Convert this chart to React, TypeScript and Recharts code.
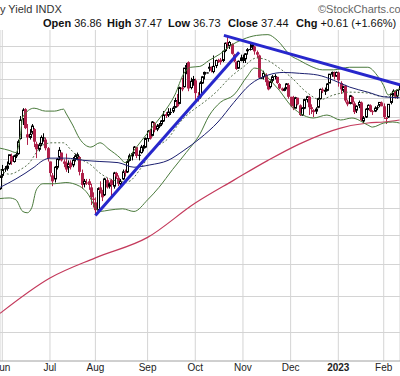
import { ComposedChart, Bar, Line, XAxis, YAxis, CartesianGrid } from "recharts";

// $TNX daily candles, yield x10. Day 0 = Jun 1 2022, one step per trading day.
const FIRST_DAY = -1;

const OPEN = [
  27.5,
  28.6, 29.2, 29.2, 29.6, 30.3, 29.8, 30.3, 30.5, 31.9, 33.8, 34.8, 32.3, 32.0, 32.5, 32.8, 31.4, 30.9, 31.4, 32.0, 31.8, 31.0,
  29.8, 28.6, 28.3, 29.3, 30.2, 30.6, 29.8, 29.7, 29.3, 29.7, 29.5, 30.0, 30.1, 30.2, 28.8, 27.9, 28.0, 28.1, 27.6, 26.7,
  26.4, 25.8, 27.6, 27.3, 27.0, 28.2, 27.7, 28.2, 27.7, 28.8, 28.4, 27.9, 28.3, 28.9, 28.9, 29.9, 30.3, 30.6, 31.1, 30.4, 30.6, 31.0, 31.1,
  31.9, 32.7, 32.2, 33.4, 32.8, 33.1, 33.3, 33.6, 34.3, 34.2, 34.5, 34.6, 35.0, 35.6, 35.4, 37.1, 37.2, 39.4, 40.0, 37.1, 37.9,
  37.9, 36.2, 36.1, 37.6, 38.6, 38.8, 39.3, 39.4, 38.9, 39.6, 40.2, 40.3, 40.2, 41.4, 42.4, 42.0, 42.2, 40.9, 40.0, 39.3, 40.2,
  40.2, 40.4, 41.4, 41.6, 41.8, 41.9, 41.2, 40.8, 38.2, 38.3, 38.5, 37.8, 37.2, 37.9, 38.4, 38.3, 37.5, 37.0, 36.8, 37.0, 37.4,
  36.1, 35.0, 34.9, 36.0, 35.2, 34.2, 34.9, 35.8, 36.1, 35.0, 34.7, 34.6, 35.0, 35.9, 36.9, 36.7, 36.8, 37.6, 38.6, 38.8, 38.4,
  38.8, 37.6, 36.8, 37.3, 35.6, 35.4, 36.1, 35.4, 34.7, 35.2, 35.5, 33.6, 34.0, 34.8, 35.2, 34.6, 34.6, 35.0, 35.2, 35.5,
  35.1, 33.9, 34.0, 35.5, 36.4, 36.6, 36.2, 36.86,
];
const HIGH = [
  28.6,
  29.5, 29.4, 29.8, 30.4, 30.5, 30.4, 30.6, 31.8, 34.1, 34.9, 34.9, 33.3, 32.8, 33.3, 32.9, 31.6, 31.5, 32.2, 32.4, 32.0, 31.1,
  29.8, 28.8, 29.4, 30.1, 31.1, 30.6, 30.0, 30.5, 29.9, 29.9, 30.2, 30.5, 30.6, 30.3, 29.1, 28.3, 28.3, 28.3, 27.9, 27.2,
  26.8, 27.6, 28.1, 27.4, 28.4, 28.4, 28.0, 28.3, 28.9, 28.9, 28.6, 28.3, 29.1, 29.1, 30.0, 30.5, 30.6, 31.2, 31.1, 30.8, 31.3, 31.3, 32.0,
  32.7, 32.8, 33.6, 33.5, 33.3, 33.4, 33.7, 34.6, 34.5, 34.9, 34.9, 35.1, 36.0, 36.4, 37.2, 38.2, 39.3, 39.9, 40.1, 38.2, 38.4,
  38.1, 36.6, 37.8, 38.4, 38.9, 38.8, 39.9, 39.5, 40.8, 40.3, 40.4, 40.5, 41.4, 42.4, 43.3, 42.6, 42.3, 41.0, 40.1, 40.2, 40.9,
  40.9, 41.1, 41.7, 42.3, 42.2, 42.0, 41.4, 40.9, 38.2, 39.0, 38.7, 37.9, 38.0, 38.5, 38.6, 38.3, 37.6, 37.1, 37.1, 37.6, 37.6,
  36.1, 36.2, 36.1, 36.0, 35.3, 35.0, 35.9, 36.2, 36.2, 35.3, 34.8, 35.0, 36.0, 37.0, 37.1, 37.1, 37.6, 38.6, 38.9, 38.9, 38.9,
  38.9, 37.8, 37.3, 37.4, 35.8, 36.3, 36.2, 35.6, 35.2, 35.7, 35.6, 34.1, 34.9, 35.3, 35.3, 34.7, 35.1, 35.2, 35.5, 35.6,
  35.4, 34.0, 35.3, 36.4, 36.9, 36.8, 36.8, 37.47,
];
const LOW = [
  27.4,
  28.4, 28.9, 29.0, 29.5, 29.5, 29.7, 30.1, 30.4, 31.8, 33.2, 32.8, 31.3, 31.8, 32.3, 31.1, 30.1, 30.7, 31.2, 31.6, 30.8, 29.8,
  28.5, 27.7, 28.0, 29.1, 29.9, 29.8, 29.3, 28.9, 28.8, 29.1, 29.3, 29.8, 29.9, 28.6, 27.5, 27.6, 27.8, 27.4, 26.2, 26.0,
  25.5, 25.6, 27.1, 26.5, 26.9, 27.5, 27.5, 26.9, 27.5, 28.3, 27.7, 27.7, 28.2, 28.5, 28.8, 29.8, 29.9, 30.5, 30.1, 29.9, 30.5, 30.7, 31.0,
  31.6, 31.8, 32.1, 32.5, 32.6, 32.9, 33.1, 33.5, 33.9, 34.0, 34.2, 34.4, 34.9, 35.0, 35.3, 36.7, 37.1, 38.6, 36.7, 36.9, 37.3,
  35.7, 35.6, 35.9, 37.5, 38.0, 38.8, 38.9, 38.8, 38.7, 39.3, 39.9, 39.7, 40.0, 41.2, 41.6, 41.6, 40.9, 40.0, 39.1, 39.2, 40.1,
  39.9, 39.9, 40.9, 41.4, 41.5, 40.9, 40.5, 38.1, 38.2, 38.0, 37.3, 36.8, 37.0, 37.6, 38.0, 37.5, 36.9, 36.7, 36.7, 36.9, 35.9,
  35.0, 34.7, 34.9, 35.2, 34.1, 34.1, 34.8, 35.5, 34.2, 34.3, 34.0, 34.3, 34.9, 35.8, 36.5, 36.3, 36.7, 37.6, 38.3, 38.0, 38.3,
  37.2, 36.4, 36.6, 35.5, 35.1, 35.3, 35.3, 34.3, 34.4, 34.9, 33.6, 33.4, 33.9, 34.7, 34.5, 34.2, 34.5, 34.7, 35.0, 35.1,
  33.8, 33.3, 33.9, 35.3, 36.2, 35.9, 35.9, 36.73,
];
const CLOSE = [
  28.5,
  29.1, 29.1, 29.4, 30.4, 29.8, 30.3, 30.4, 31.6, 33.7, 34.7, 32.9, 32.0, 32.3, 33.1, 31.6, 30.9, 31.3, 32.0, 32.0, 31.0, 30.1,
  28.8, 28.1, 29.3, 30.0, 30.8, 29.9, 29.6, 29.1, 29.6, 29.3, 29.9, 30.3, 30.4, 28.9, 27.8, 28.1, 28.0, 27.8, 26.8, 26.6,
  25.8, 27.5, 27.3, 26.8, 28.3, 27.6, 27.9, 27.8, 28.8, 28.5, 27.9, 28.1, 28.9, 28.8, 29.8, 30.3, 30.5, 31.1, 30.3, 30.4, 31.1, 31.1, 31.9,
  32.6, 31.9, 33.5, 32.7, 33.1, 33.2, 33.6, 34.2, 34.1, 34.5, 34.5, 34.9, 35.7, 35.1, 37.1, 36.9, 39.3, 39.6, 37.0, 37.8, 38.0,
  36.5, 36.2, 37.6, 38.3, 38.8, 38.8, 39.4, 39.0, 39.5, 40.2, 40.1, 40.0, 41.3, 42.3, 42.2, 42.4, 41.0, 40.1, 39.2, 40.1, 40.5,
  40.5, 41.0, 41.5, 41.6, 42.1, 41.3, 40.9, 38.2, 38.2, 38.7, 37.7, 36.9, 37.7, 38.3, 38.3, 37.6, 37.0, 36.8, 36.9, 37.5, 36.1,
  35.1, 34.9, 36.0, 35.3, 34.2, 34.9, 35.8, 36.1, 35.0, 34.8, 34.5, 34.8, 35.9, 36.9, 36.7, 36.8, 37.5, 38.6, 38.8, 38.3, 38.8,
  37.9, 36.9, 37.2, 35.7, 35.3, 36.2, 35.5, 34.5, 35.1, 35.5, 33.7, 33.9, 34.8, 35.2, 34.6, 34.5, 34.9, 35.0, 35.5, 35.1,
  34.0, 33.9, 35.3, 36.4, 36.7, 36.1, 36.83, 37.44,
];

// overlays: [day, value]
const UPPER_BAND = [
  [-1, 31.0], [3, 30.8], [6, 30.6], [8, 32.2], [9, 34.0], [14, 34.9], [19, 34.6], [23, 34.6], [27, 34.8], [28, 34.4],
  [31, 33.2], [34, 31.9], [39, 31.1], [43, 31.5], [47, 30.9], [52, 30.1], [54, 29.7], [58, 30.8], [65, 32.7], [71, 34.4],
  [76, 36.3], [80, 38.7], [83, 39.4], [87, 39.5], [91, 40.2], [96, 41.0], [100, 41.9], [106, 42.8], [112, 43.3], [117, 43.4],
  [121, 42.7], [127, 40.8], [131, 40.2], [136, 39.5], [141, 39.1], [146, 39.1], [153, 39.4], [161, 39.4], [165, 38.5],
  [168, 37.3], [170, 36.3], [172, 36.6], [175, 37.0],
];
const LOWER_BAND = [
  [-1, 26.7], [3, 26.75], [6, 26.6], [9, 25.7], [11, 25.6], [13, 26.0], [15, 27.4], [18, 27.9], [23, 27.9], [28, 28.0],
  [34, 27.7], [38, 27.0], [41, 26.0], [43, 25.7], [47, 25.8], [53, 25.9], [58, 25.7], [64, 26.6], [69, 27.6], [75, 29.1],
  [81, 30.6], [87, 32.3], [91, 34.1], [96, 35.5], [102, 36.3], [108, 38.4], [111, 39.3], [114, 39.1], [117, 38.2],
  [122, 36.8], [127, 35.2], [131, 34.4], [137, 33.9], [143, 34.2], [149, 33.7], [154, 33.9], [161, 33.2], [163, 33.0],
  [168, 33.4], [172, 33.5], [175, 33.4],
];
const MID_BAND = [
  [-1, 29.1], [3, 28.7], [8, 29.1], [12, 29.7], [15, 30.6], [18, 31.3], [22, 31.5], [27, 31.5], [30, 30.9], [34, 30.1],
  [39, 29.5], [43, 28.8], [49, 28.2], [55, 28.05], [61, 29.2], [66, 30.8], [73, 31.9], [78, 33.4], [84, 34.7], [87, 35.2],
  [95, 36.8], [100, 38.15], [106, 39.4], [112, 40.5], [117, 40.2], [122, 39.3], [127, 38.3], [134, 36.6], [140, 35.8],
  [146, 36.3], [153, 36.6], [161, 36.5], [168, 36.1], [175, 36.3],
];
const SMA_50 = [
  [-1, 27.6], [6, 28.3], [14, 29.3], [18, 29.9], [21, 30.1], [28, 30.1], [36, 29.9], [43, 29.8], [51, 29.7], [58, 29.3],
  [65, 29.5], [73, 29.9], [80, 30.8], [87, 31.9], [95, 33.5], [102, 35.5], [109, 37.4], [117, 38.5], [124, 38.8],
  [131, 38.7], [139, 38.5], [146, 37.9], [153, 37.15], [161, 36.6], [168, 36.1], [175, 36.0],
];
const SMA_200 = [
  [-1, 19.0], [21, 21.1], [41, 22.4], [64, 23.8], [85, 26.35], [102, 28.2], [117, 29.9], [131, 31.4], [149, 32.9],
  [161, 33.4], [168, 33.5], [175, 33.7],
];
const UP_TREND = [[41, 25.4], [104.3, 41.2]];
const DOWN_TREND = [[97.6, 43.3], [175.1, 37.4]];

const X_DOMAIN = [-1.01, 175.17];
const Y_DOMAIN = [16.5, 44];
const MONTH_TICKS = [0, 21, 41, 64, 85, 106, 127, 148, 168];
const MONTH_LABELS = ["Jun", "Jul", "Aug", "Sep", "Oct", "Nov", "Dec", "2023", "Feb"];
const GRID_LEVELS = [18, 20, 22, 24, 26, 28, 30, 32, 34, 36, 38, 40, 42];

const TITLE = "y Yield INDX";
const QUOTE = [
  ["Open", "36.86", 43],
  ["High", "37.47", 107],
  ["Low", "36.73", 168],
  ["Close", "37.44", 228],
  ["Chg", "+0.61 (+1.66%)", 296],
] as const;

const FONT = "'Liberation Sans', Arial, sans-serif";
const RED = "#b0204a";
const BAND = "#4a7a3c";
const GRID = "#d4d4d4";
const W = 400;
const H = 376;
const PLOT_TOP = 30;
const AXIS_H = 15;

const candles = CLOSE.map((c, k) => ({
  i: FIRST_DAY + k,
  range: [LOW[k], HIGH[k]],
  open: OPEN[k],
  high: HIGH[k],
  low: LOW[k],
  close: c,
  prev: k > 0 ? CLOSE[k - 1] : OPEN[k],
}));

const toPts = (arr: number[][]) => arr.map(([i, v]) => ({ i, v }));

// horizontal log gridlines, same mapping as the log YAxis over the plot area
const plotH = H - PLOT_TOP - AXIS_H;
const gridY = (v: number) =>
  PLOT_TOP + (plotH * (Math.log(Y_DOMAIN[1]) - Math.log(v))) / (Math.log(Y_DOMAIN[1]) - Math.log(Y_DOMAIN[0]));

function Candle(props: any) {
  const { x, y, width, height, payload } = props;
  if (x == null || y == null) return null;
  const { open, close, high, low, prev } = payload;
  const span = Math.log(high) - Math.log(low);
  const py = (v: number) => (span > 0 ? y + (height * (Math.log(high) - Math.log(v))) / span : y);
  const color = close >= prev ? "#000" : RED;
  const cx = Math.round(x + width / 2) + 0.5;
  const top = py(Math.max(open, close));
  const bot = py(Math.min(open, close));
  const hollow = close > open;
  return (
    <g>
      <line x1={cx} x2={cx} y1={y} y2={y + Math.max(height, 1)} stroke={color} strokeWidth={1} />
      {hollow ? (
        <rect x={cx - 1} y={top} width={2} height={Math.max(bot - top, 1)} fill="#fff" stroke={color} strokeWidth={1} />
      ) : (
        <rect x={cx - 1.5} y={top} width={3} height={Math.max(bot - top, 1)} fill={color} />
      )}
    </g>
  );
}

function MonthTick({ x, y, payload }: any) {
  const label = MONTH_LABELS[MONTH_TICKS.indexOf(payload.value)];
  return (
    <text
      x={x}
      y={y + 10}
      textAnchor="middle"
      fontSize={10}
      fontFamily={FONT}
      fontWeight={label === "2023" ? 700 : 400}
      fill="#222"
    >
      {label}
    </text>
  );
}

export default function App() {
  return (
    <div
      style={{
        position: "fixed",
        left: 0,
        top: 0,
        width: W,
        height: H,
        overflow: "hidden",
        background: "#fff",
      }}
    >
      <svg width={W} height={H} style={{ position: "absolute", left: 0, top: 0 }}>
        {GRID_LEVELS.map((v) => {
          const y = Math.round(gridY(v)) + 0.5;
          return <line key={v} x1={0} x2={W} y1={y} y2={y} stroke={GRID} strokeWidth={1} />;
        })}
      </svg>
      <div style={{ position: "absolute", left: 0, top: 0 }}>
        <ComposedChart
          width={W}
          height={H}
          data={candles}
          margin={{ top: PLOT_TOP, right: 0, bottom: 0, left: 0 }}
        >
          <CartesianGrid stroke={GRID} horizontal={false} />
          <XAxis
            dataKey="i"
            type="number"
            domain={X_DOMAIN}
            allowDataOverflow
            ticks={MONTH_TICKS}
            interval={0}
            tick={<MonthTick />}
            tickLine={false}
            tickSize={0}
            tickMargin={0}
            axisLine={{ stroke: "#a0a0a0" }}
            height={AXIS_H}
          />
          <YAxis hide type="number" scale="log" domain={Y_DOMAIN} allowDataOverflow />
          <Line data={toPts(SMA_200)} dataKey="v" type="monotone" stroke="#c43a5c" strokeWidth={1.2} dot={false} isAnimationActive={false} />
          <Line data={toPts(UPPER_BAND)} dataKey="v" type="monotone" stroke={BAND} strokeWidth={1} dot={false} isAnimationActive={false} />
          <Line data={toPts(LOWER_BAND)} dataKey="v" type="monotone" stroke={BAND} strokeWidth={1} dot={false} isAnimationActive={false} />
          <Line data={toPts(MID_BAND)} dataKey="v" type="monotone" stroke="#56704c" strokeWidth={1} strokeDasharray="2 2" dot={false} isAnimationActive={false} />
          <Line data={toPts(SMA_50)} dataKey="v" type="monotone" stroke="#1c2070" strokeWidth={1} dot={false} isAnimationActive={false} />
          <Bar dataKey="range" shape={<Candle />} isAnimationActive={false} />
          <Line data={toPts(UP_TREND)} dataKey="v" type="linear" stroke="#2727cc" strokeWidth={3} dot={false} isAnimationActive={false} />
          <Line data={toPts(DOWN_TREND)} dataKey="v" type="linear" stroke="#2727cc" strokeWidth={3} dot={false} isAnimationActive={false} />
        </ComposedChart>
      </div>
      <svg width={W} height={PLOT_TOP} style={{ position: "absolute", left: 0, top: 0 }} fontFamily={FONT}>
        <rect x={0} y={0} width={W} height={PLOT_TOP - 0.5} fill="#fff" />
        <text x={0} y={13} fontSize={11} fill="#333">{TITLE}</text>
        <text x={318} y={13} fontSize={11} fill="#666">©StockCharts.com</text>
        <text y={27} fontSize={11} fill="#111">
          {QUOTE.map(([label, value, x]) => (
            <tspan key={label}>
              <tspan x={x} fontWeight={700}>{label}</tspan>
              <tspan> {value}</tspan>
            </tspan>
          ))}
          <tspan fill="#2a9a2a" fontSize={8}> ▲</tspan>
        </text>
      </svg>
    </div>
  );
}
